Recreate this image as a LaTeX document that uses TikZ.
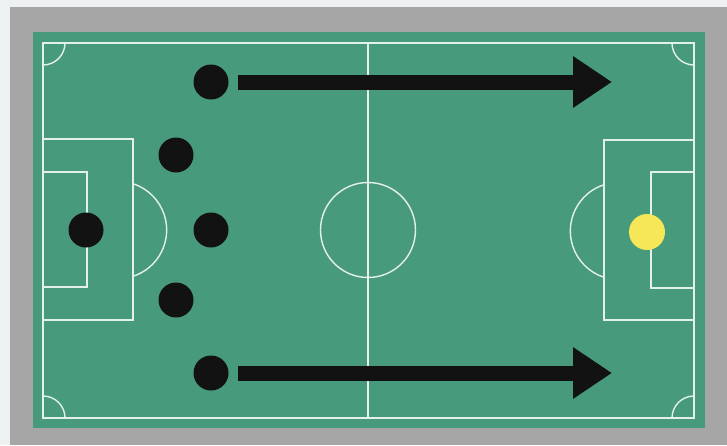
\documentclass[tikz,border=0pt]{standalone}
\usetikzlibrary{arrows.meta}
\definecolor{turf}{RGB}{72,154,124}
\definecolor{frame}{RGB}{166,166,166}
\definecolor{paper}{RGB}{238,241,241}
\definecolor{keeper}{RGB}{246,231,88}

\begin{document}
\begin{tikzpicture}[x=0.03cm,y=-0.03cm,
    player/.style={circle,fill=black!93,minimum size=1.05cm,inner sep=0pt},
    chalk/.style={draw=white!85!turf,line width=1.2pt},
    run/.style={-{Triangle[length=1.17cm,width=1.47cm]},line width=0.45cm,black!93,shorten <=0.29cm}]
    % Background and frame
    \fill[paper] (0,0) rectangle (727,445);
    \fill[frame] (10,7) rectangle (727,445);
    \fill[turf] (33,32) rectangle (705,428);

    % Pitch markings
    \draw[chalk] (43,43) rectangle (694,418);
    \draw[chalk] (368,43) -- (368,418);
    \draw[chalk] (368,230) circle (1.425cm);
    \draw[chalk] (43,139) rectangle (133,320);
    \draw[chalk] (43,172) rectangle (87,287);
    \draw[chalk] (604,140) rectangle (694,320);
    \draw[chalk] (651,172) rectangle (694,288);
    \draw[chalk] (118,230) ++(-72:1.46cm) arc[start angle=-72,end angle=72,radius=1.46cm];
    \draw[chalk] (619,231) ++(108:1.46cm) arc[start angle=108,end angle=252,radius=1.46cm];

    % Corners
    \draw[chalk] (43,43) ++(0:0.66cm) arc[start angle=0,end angle=-90,radius=0.66cm];
    \draw[chalk] (694,43) ++(180:0.66cm) arc[start angle=180,end angle=270,radius=0.66cm];
    \draw[chalk] (43,418) ++(0:0.66cm) arc[start angle=0,end angle=90,radius=0.66cm];
    \draw[chalk] (694,418) ++(90:0.66cm) arc[start angle=90,end angle=180,radius=0.66cm];

    % Players
    \node[player] (gk) at (86,230) {};
    \node[player] (defl) at (176,155) {};
    \node[player] (defc) at (211,230) {};
    \node[player] (defr) at (176,300) {};
    \node[player] (wingtop) at (211,82) {};
    \node[player] (wingbot) at (211,373) {};
    \node[circle,fill=keeper,minimum size=1.08cm,inner sep=0pt] (opp) at (647,232) {};

    % Runs forward
    \coordinate (toptip) at (612,82);
    \coordinate (bottip) at (612,373);
    \draw[run] (wingtop) -- (toptip);
    \draw[run] (wingbot) -- (bottip);
\end{tikzpicture}
\end{document}
